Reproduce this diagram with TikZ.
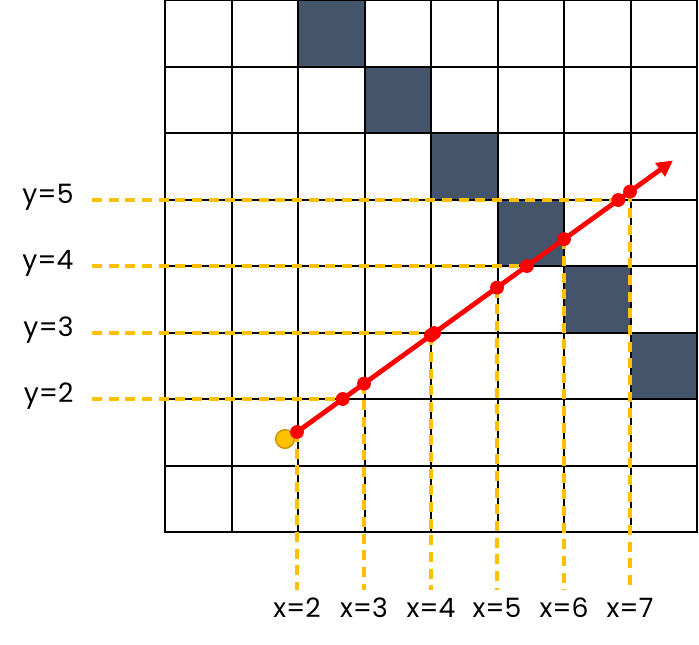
\documentclass[tikz,border=0pt]{standalone}
\usepackage{fontspec}
\setmainfont{Poppins}
\usetikzlibrary{arrows.meta}
\definecolor{cellDark}{RGB}{68,84,106}
\definecolor{guideOrange}{RGB}{255,192,0}
\definecolor{startRim}{RGB}{200,145,0}
\tikzset{every picture/.style={line width=0.75pt},
  cell/.style={fill=cellDark},
  gridline/.style={draw=black,line width=1.5pt,line cap=rect},
  guide/.style={draw=guideOrange,line width=2.4pt,dash pattern={on 7.5pt off 5pt}},
  ray/.style={draw=red,line width=3.6pt,-{Triangle[length=12pt,width=12pt]}},
  hit/.style={fill=red},
  startdot/.style={fill=guideOrange,draw=startRim,line width=1pt},
  axislabel/.style={font=\fontsize{20}{24}\selectfont,inner sep=0pt}}

\begin{document}
\begin{tikzpicture}[x=0.75pt,y=0.75pt,yscale=-1,xscale=1]
\useasboundingbox (0,0) rectangle (699,644);

%Shape: Dark Cells
\foreach \c in {2,...,7}
  \fill[cell] ({165+66.5*\c},{66.5*(\c-2)}) rectangle +(66.5,66.5);
%Shape: Grid
\foreach \k in {0,...,8} {
  \draw[gridline] ({165+66.5*\k},0) -- ({165+66.5*\k},532);
  \draw[gridline] (165,{66.5*\k}) -- (697,{66.5*\k});
}

%Points on the ray
\coordinate (s) at (297,432);
\coordinate (e) at (673,160.5);
\coordinate (hy2) at (342.7,399);
\coordinate (vx3) at (364,383.6);
\coordinate (vx4) at (431,335.3);
\coordinate (hy3) at (434.1,333);
\coordinate (vx5) at (497,287.6);
\coordinate (hy4) at (526.9,266);
\coordinate (vx6) at (564,239.2);
\coordinate (hy5) at (618.3,200);
\coordinate (vx7) at (630,191.6);

% Text Node
\node[axislabel,anchor=mid east] (labY5) at (74,200) {y=5};
% Text Node
\node[axislabel,anchor=mid east] (labY4) at (74,266) {y=4};
% Text Node
\node[axislabel,anchor=mid east] (labY3) at (74,333) {y=3};
% Text Node
\node[axislabel,anchor=mid east] (labY2) at (74,399) {y=2};
% Text Node
\node[axislabel] (labX2) at (297,608) {x=2};
% Text Node
\node[axislabel] (labX3) at (364,608) {x=3};
% Text Node
\node[axislabel] (labX4) at (431,608) {x=4};
% Text Node
\node[axislabel] (labX5) at (497,608) {x=5};
% Text Node
\node[axislabel] (labX6) at (564,608) {x=6};
% Text Node
\node[axislabel] (labX7) at (630,608) {x=7};

%Straight Lines: horizontal guides
\draw[guide] (92,200) -- (hy5);
\draw[guide] (92,266) -- (hy4);
\draw[guide] (92,333) -- (hy3);
\draw[guide] (92,399) -- (hy2);
%Straight Lines: vertical guides
\draw[guide] (s) -- (297,590);
\draw[guide] (vx3) -- (364,590);
\draw[guide] (vx4) -- (431,590);
\draw[guide] (vx5) -- (497,590);
\draw[guide] (vx6) -- (564,590);
\draw[guide] (vx7) -- (630,590);

%Shape: Circle (start)
\draw[startdot] (285,439) circle[radius=7pt];
%Straight Lines: ray
\draw[ray] (s) -- (e);
%Shape: Circles (hits)
\foreach \p in {s,hy2,vx3,vx4,hy3,vx5,hy4,vx6,hy5,vx7}
  \fill[hit] (\p) circle[radius=5.2pt];

\end{tikzpicture}
\end{document}
